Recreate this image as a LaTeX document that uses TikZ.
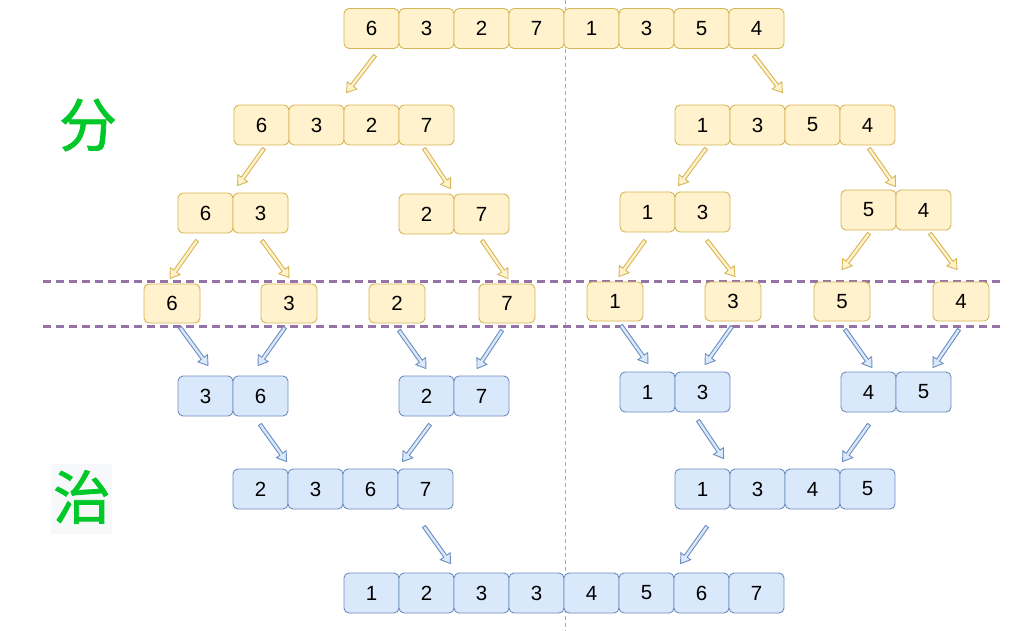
\documentclass[tikz,border=0pt]{standalone}
\usepackage{fontspec}
\setmainfont{Liberation Sans}
\newfontfamily\cjk[FakeBold=1.3]{Noto Sans CJK SC}
\usetikzlibrary{calc}
\definecolor{yfill}{HTML}{FFF2CC}
\definecolor{ydraw}{HTML}{D6B656}
\definecolor{bfill}{HTML}{DAE8FC}
\definecolor{bdraw}{HTML}{6C8EBF}
\definecolor{purp}{HTML}{9673A6}
\definecolor{grn}{RGB}{0,200,40}
\definecolor{codebg}{HTML}{F6F8FA}
\definecolor{midline}{HTML}{AAAAAA}

\newcommand\farrow[3]{%
  \coordinate (fa-a) at (#2);
  \coordinate (fa-b) at (#3);
  \coordinate (fa-c) at ($(fa-b)!9pt!(fa-a)$);
  \draw[#1] ($(fa-a)!1.8pt!90:(fa-b)$) -- ($(fa-c)!1.8pt!90:(fa-b)$)
    -- ($(fa-c)!6pt!90:(fa-b)$) -- (fa-b) -- ($(fa-c)!6pt!-90:(fa-b)$)
    -- ($(fa-c)!1.8pt!-90:(fa-b)$) -- ($(fa-a)!1.8pt!-90:(fa-b)$) -- cycle;
}
\newcommand\cellrow[5]{%
  \foreach \v [count=\i] in {#5}
    \node[#4] (#1-\i) at ({#2+55*\i-27.5},{#3+20}) {\v};
}

\begin{document}
\begin{tikzpicture}[x=1pt,y=-1pt,
  cell/.style={rounded corners=5pt, minimum width=55pt, minimum height=40pt,
    inner sep=0pt, line width=0.9pt, font=\fontsize{20.5}{20.5}\selectfont},
  ycell/.style={cell, fill=yfill, draw=ydraw},
  bcell/.style={cell, fill=bfill, draw=bdraw},
  ysingle/.style={ycell, minimum width=56pt, minimum height=39pt},
  yarrow/.style={fill=yfill, draw=ydraw, line width=0.9pt, line join=miter},
  barrow/.style={fill=bfill, draw=bdraw, line width=0.9pt, line join=miter},
  sepline/.style={draw=purp, line width=2.4pt, dash pattern=on 8pt off 5pt},
  bigchar/.style={text=grn, font=\cjk\fontsize{58}{58}\selectfont, inner sep=0pt}
]
\useasboundingbox (0,0) rectangle (1033,631);

% vertical middle line
\coordinate (mtop) at (565,0);
\coordinate (mbot) at (565,631);
\draw[midline, line width=0.8pt, dash pattern=on 4pt off 3pt] (mtop) -- (mbot);

% separator lines
\coordinate (d1a) at (43,281.5);
\coordinate (d1b) at (1001,281.5);
\coordinate (d2a) at (43,326.5);
\coordinate (d2b) at (1001,326.5);
\draw[sepline] (d1a) -- (d1b);
\draw[sepline] (d2a) -- (d2b);

% labels
\node[bigchar] (fen) at (88,125) {分};
\node[fill=codebg, minimum width=61pt, minimum height=70pt, inner sep=0pt] (zhibg) at (81.5,499) {};
\node[bigchar] (zhi) at (82,497) {治};

% divide rows
\cellrow{r1}{344}{8.5}{ycell}{6,3,2,7,1,3,5,4}
\cellrow{r2a}{234}{105}{ycell}{6,3,2,7}
\cellrow{r2b}{675}{105}{ycell}{1,3,5,4}
\cellrow{r3a}{178}{193}{ycell}{6,3}
\cellrow{r3b}{399}{194}{ycell}{2,7}
\cellrow{r3c}{620}{192}{ycell}{1,3}
\cellrow{r3d}{841}{190}{ycell}{5,4}

% singletons
\node[ysingle] (s1) at (172,303.5) {6};
\node[ysingle] (s2) at (289,303.5) {3};
\node[ysingle] (s3) at (397,303.5) {2};
\node[ysingle] (s4) at (507,303.5) {7};
\node[ysingle] (s5) at (615,301.5) {1};
\node[ysingle] (s6) at (733,301.5) {3};
\node[ysingle] (s7) at (842,301.5) {5};
\node[ysingle] (s8) at (961,301.5) {4};

% conquer rows
\cellrow{r5a}{178}{376}{bcell}{3,6}
\cellrow{r5b}{399}{376}{bcell}{2,7}
\cellrow{r5c}{620}{372}{bcell}{1,3}
\cellrow{r5d}{841}{372}{bcell}{4,5}
\cellrow{r6a}{233}{469}{bcell}{2,3,6,7}
\cellrow{r6b}{675}{469}{bcell}{1,3,4,5}
\cellrow{r7}{344}{573}{bcell}{1,2,3,3,4,5,6,7}

% divide arrows
\farrow{yarrow}{$(r1-1.south)+(3.5,6.5)$}{$(r2a-3.north west)+(3,-12)$}
\farrow{yarrow}{$(r1-8.south)+(-2.5,6.5)$}{$(r2b-2.north east)+(-3,-12)$}
\farrow{yarrow}{$(r2a-1.south)+(2.5,3)$}{$(r3a-2.north west)+(5,-7)$}
\farrow{yarrow}{$(r2a-4.south)+(-2.5,3)$}{$(r3b-2.north west)+(-3,-5)$}
\farrow{yarrow}{$(r2b-1.south)+(3.5,3)$}{$(r3c-2.north west)+(4,-6)$}
\farrow{yarrow}{$(r2b-4.south)+(1.5,3)$}{$(r3d-2.north west)+(0,-3)$}
\farrow{yarrow}{$(r3a-1.south)+(-8.5,7)$}{$(s1.north)+(-2,-5)$}
\farrow{yarrow}{$(r3a-2.south)+(1.5,7)$}{$(s2.north)+(0,-6)$}
\farrow{yarrow}{$(r3b-2.south)+(0.5,6)$}{$(s4.north)+(1,-5)$}
\farrow{yarrow}{$(r3c-1.south)+(-2.5,8)$}{$(s5.north)+(4,-5)$}
\farrow{yarrow}{$(r3c-2.south)+(4.5,8)$}{$(s6.north)+(2,-5)$}
\farrow{yarrow}{$(r3d-1.south)+(0.5,3)$}{$(s7.north)+(0,-12)$}
\farrow{yarrow}{$(r3d-2.south)+(6.5,3)$}{$(s8.north)+(-4,-12)$}

% conquer arrows
\farrow{barrow}{$(s1.south)+(8,4)$}{$(r5a-1.north)+(2.5,-10)$}
\farrow{barrow}{$(s2.south)+(-4,4)$}{$(r5a-2.north)+(-2.5,-10)$}
\farrow{barrow}{$(s3.south)+(2,7)$}{$(r5b-1.north)+(-0.5,-7)$}
\farrow{barrow}{$(s4.south)+(-5,7)$}{$(r5b-2.north)+(-4.5,-7)$}
\farrow{barrow}{$(s5.south)+(6,4)$}{$(r5c-1.north)+(0.5,-8)$}
\farrow{barrow}{$(s6.south)+(-1,5)$}{$(r5c-2.north)+(2.5,-7)$}
\farrow{barrow}{$(s7.south)+(3,8)$}{$(r5d-1.north)+(3.5,-4)$}
\farrow{barrow}{$(s8.south)+(-2,8)$}{$(r5d-2.north)+(9.5,-4)$}
\farrow{barrow}{$(r5a-2.south)+(-0.5,8)$}{$(r6a-2.north west)+(-1,-7)$}
\farrow{barrow}{$(r5b-1.south)+(3.5,8)$}{$(r6a-4.north west)+(5,-7)$}
\farrow{barrow}{$(r5c-2.south)+(-4.5,8)$}{$(r6b-2.north west)+(-6,-10)$}
\farrow{barrow}{$(r5d-1.south)+(0.5,12)$}{$(r6b-4.north west)+(3,-7)$}
\farrow{barrow}{$(r6a-4.south)+(-1.5,17)$}{$(r7-3.north west)+(-3,-9)$}
\farrow{barrow}{$(r6b-1.south)+(4.5,17)$}{$(r7-7.north west)+(7,-9)$}
\end{tikzpicture}
\end{document}
